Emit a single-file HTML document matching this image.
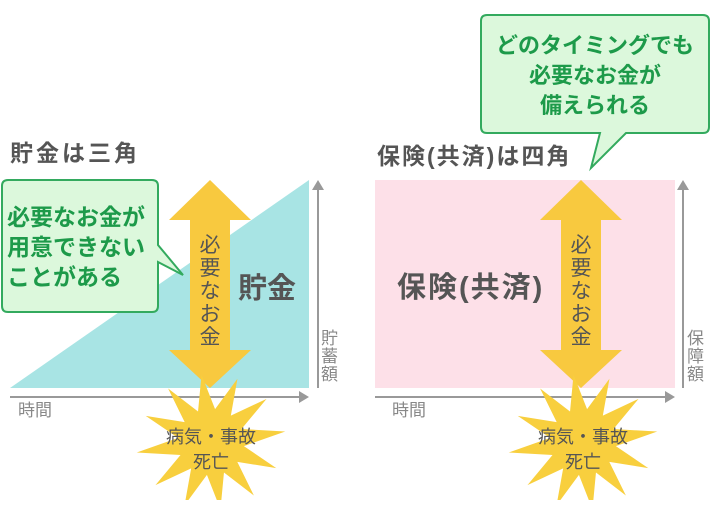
<!DOCTYPE html>
<html><head><meta charset="utf-8"><style>
body{margin:0;background:#fff;}
svg text{font-family:"Liberation Sans","Noto Sans CJK JP",sans-serif;}
</style></head><body>
<svg width="710" height="500" viewBox="0 0 710 500" xmlns="http://www.w3.org/2000/svg">
<defs>
<polygon id="star" points="75,0 32,8.6 61,35 23.3,23.3 35,59 8.6,32 0,68 -8.6,32 -35,59 -23.3,23.3 -61,35 -32,8.6 -75,0 -32,-8.6 -61,-35 -23.3,-23.3 -35,-59 -8.6,-32 0,-68 8.6,-32 35,-59 23.3,-23.3 61,-35 32,-8.6"/>
</defs>
<!-- LEFT -->
<text x="10" y="161" font-size="23" font-weight="bold" fill="#555" letter-spacing="3">貯金は三角</text>
<polygon points="10,388 309,180 309,388" fill="#a8e4e4"/>
<line x1="10" y1="397" x2="300" y2="397" stroke="#999" stroke-width="2"/>
<polygon points="309,397 299,391 299,403" fill="#999"/>
<line x1="318" y1="388" x2="318" y2="190" stroke="#999" stroke-width="2"/>
<polygon points="318,180 312,190 324,190" fill="#999"/>
<text font-size="17" fill="#888"><tspan x="321" y="344">貯</tspan><tspan x="321" y="362">蓄</tspan><tspan x="321" y="380">額</tspan></text>
<text x="18" y="416" font-size="17" fill="#888">時間</text>
<text x="238" y="298" font-size="29" font-weight="bold" fill="#555">貯金</text>
<polygon points="210,180 251,220 230,220 230,350 251,350 210,388 169,350 190,350 190,220 169,220" fill="#f8c93f"/>
<use href="#star" transform="translate(211,442) rotate(-8)" fill="#f8cf3e"/>
<text font-size="21" fill="#555" text-anchor="middle"><tspan x="210" y="252">必</tspan><tspan x="210" y="275">要</tspan><tspan x="210" y="298">な</tspan><tspan x="210" y="321">お</tspan><tspan x="210" y="344">金</tspan></text>
<text font-size="18" fill="#555" text-anchor="middle"><tspan x="211" y="443">病気・事故</tspan><tspan x="211" y="468">死亡</tspan></text>
<path d="M8,180 H152 Q158,180 158,186 V245 L183,275 L158,262 V306 Q158,312 152,312 H8 Q2,312 2,306 V186 Q2,180 8,180 Z" fill="#dcf8dc" stroke="#33aa5e" stroke-width="2"/>
<text font-size="23" font-weight="bold" fill="#1d9a4a"><tspan x="7" y="225">必要なお金が</tspan><tspan x="7" y="255">用意できない</tspan><tspan x="7" y="285">ことがある</tspan></text>
<!-- RIGHT -->
<text x="377" y="164" font-size="23" font-weight="bold" fill="#555" letter-spacing="2">保険(共済)は四角</text>
<rect x="375" y="180" width="300" height="208" fill="#fde0e8"/>
<line x1="375" y1="397" x2="666" y2="397" stroke="#999" stroke-width="2"/>
<polygon points="675,397 665,391 665,403" fill="#999"/>
<line x1="683" y1="388" x2="683" y2="190" stroke="#999" stroke-width="2"/>
<polygon points="683,180 677,190 689,190" fill="#999"/>
<text font-size="17" fill="#888"><tspan x="687" y="344">保</tspan><tspan x="687" y="362">障</tspan><tspan x="687" y="380">額</tspan></text>
<text x="392" y="416" font-size="17" fill="#888">時間</text>
<text x="397" y="297" font-size="29" font-weight="bold" fill="#555" letter-spacing="2">保険(共済)</text>
<polygon points="581,180 622,220 601,220 601,350 622,350 581,388 540,350 561,350 561,220 540,220" fill="#f8c93f"/>
<use href="#star" transform="translate(583,442) rotate(-8)" fill="#f8cf3e"/>
<text font-size="21" fill="#555" text-anchor="middle"><tspan x="581" y="252">必</tspan><tspan x="581" y="275">要</tspan><tspan x="581" y="298">な</tspan><tspan x="581" y="321">お</tspan><tspan x="581" y="344">金</tspan></text>
<text font-size="18" fill="#555" text-anchor="middle"><tspan x="583" y="443">病気・事故</tspan><tspan x="583" y="468">死亡</tspan></text>
<path d="M487,15 H703 Q709,15 709,21 V127 Q709,133 703,133 H626 L591,168 L600,133 H487 Q481,133 481,127 V21 Q481,15 487,15 Z" fill="#dcf8dc" stroke="#33aa5e" stroke-width="2"/>
<text font-size="22" font-weight="bold" fill="#1d9a4a" text-anchor="middle"><tspan x="595" y="53">どのタイミングでも</tspan><tspan x="595" y="83">必要なお金が</tspan><tspan x="595" y="113">備えられる</tspan></text>
</svg>
</body></html>
